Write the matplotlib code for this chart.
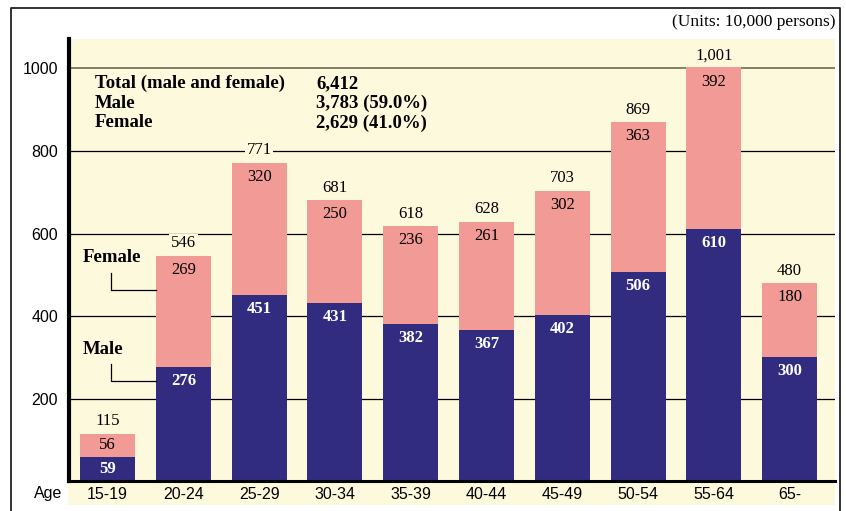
import numpy as np
import matplotlib.pyplot as plt
from matplotlib.patches import Rectangle
from matplotlib.lines import Line2D

# data (units: 10,000 persons)
ages = ["15-19", "20-24", "25-29", "30-34", "35-39", "40-44", "45-49", "50-54", "55-64", "65-"]
male = [59, 276, 451, 431, 382, 367, 402, 506, 610, 300]
female = [56, 269, 320, 250, 236, 261, 302, 363, 392, 180]
totals = [115, 546, 771, 681, 618, 628, 703, 869, 1001, 480]
summary_labels = ["Total (male and female)", "Male", "Female"]
summary_values = ["6,412", "3,783 (59.0%)", "2,629 (41.0%)"]

MALE_C = "#322c80"
FEMALE_C = "#f29a96"
BG = "#fdf9dc"
SERIF = "Liberation Serif"
SANS = "Liberation Sans"

fig = plt.figure(figsize=(8.46, 5.11), dpi=100)
W, H = 846, 511


def fx(px):
    return px / W


def fy(py):
    return 1 - py / H


# outer frame
fig.add_artist(Line2D([fx(11), fx(11), fx(840), fx(840)], [0, fy(8), fy(8), 0],
                      transform=fig.transFigure, color="#222222", lw=1.3))
# yellow band under x labels
fig.add_artist(Rectangle((fx(68), fy(505)), fx(835) - fx(68), fy(482) - fy(505),
                         transform=fig.transFigure, facecolor=BG, edgecolor="none", zorder=0))

ax = fig.add_axes([fx(69), fy(481.3), fx(835) - fx(69), fy(39) - fy(481.3)])
ax.set_facecolor(BG)
x = np.arange(len(ages))
ymax = 1071
ax.set_xlim(-0.51, 9.6)
ax.set_ylim(0, ymax)

for v in [200, 400, 600, 800]:
    ax.axhline(v, color="black", lw=0.9, zorder=1)
ax.axhline(1000, color="#6e6a55", lw=1.2, zorder=1)

w = 0.726
ax.bar(x, male, width=w, color=MALE_C, zorder=2)
ax.bar(x, female, width=w, bottom=male, color=FEMALE_C, zorder=2)

px_per_unit = (481.3 - 39) / ymax
for i in range(len(ages)):
    # label sits ~14px below segment top, or mid-segment for short ones (in points)
    off_m = min(14, male[i] * px_per_unit / 2) * 0.72
    off_f = min(14, female[i] * px_per_unit / 2) * 0.72
    ax.annotate(str(male[i]), (x[i], male[i]), xytext=(0, -off_m), textcoords="offset points",
                ha="center", va="center", color="white", fontweight="bold",
                family=SERIF, fontsize=12, zorder=3)
    ax.annotate(str(female[i]), (x[i], totals[i]), xytext=(0, -off_f), textcoords="offset points",
                ha="center", va="center", color="black", family=SERIF, fontsize=12, zorder=3)
    ax.annotate(f"{totals[i]:,}", (x[i], totals[i]), xytext=(0, 9), textcoords="offset points",
                ha="center", va="center", color="black", family=SERIF, fontsize=12, zorder=3,
                bbox=dict(boxstyle="square,pad=0.1", facecolor=BG, edgecolor="none"))

for s in ["top", "right"]:
    ax.spines[s].set_visible(False)
ax.spines["left"].set_linewidth(3)
ax.spines["bottom"].set_linewidth(2.2)
ax.set_yticks([200, 400, 600, 800, 1000])
ax.set_yticklabels(["200", "400", "600", "800", "1000"], family=SANS, fontsize=11.5)
ax.set_xticks(x)
ax.set_xticklabels(ages, family=SANS, fontsize=11.5)
ax.tick_params(length=0, pad=4)
ax.tick_params(axis="y", pad=8)

fig.text(fx(62), fy(493), "Age", ha="right", va="center", family=SANS, fontsize=11.5)
fig.text(fx(835), fy(22), "(Units: 10,000 persons)", ha="right", va="center",
         family=SERIF, fontsize=12.5)

# summary block
for j, (lab, val) in enumerate(zip(summary_labels, summary_values)):
    ypos = fy(83.5 + 19.7 * j)
    fig.text(fx(95), ypos, lab, ha="left", va="center", family=SERIF,
             fontweight="bold", fontsize=13.5)
    fig.text(fx(316), ypos, val, ha="left", va="center", family=SERIF,
             fontweight="bold", fontsize=13.5)

# series callouts
fig.text(fx(83), fy(258), "Female", ha="left", va="center", family=SERIF,
         fontweight="bold", fontsize=13.5)
fig.text(fx(83), fy(349), "Male", ha="left", va="center", family=SERIF,
         fontweight="bold", fontsize=13.5)
for y0, y1 in [(273, 290), (364, 381)]:
    fig.add_artist(Line2D([fx(111), fx(111), fx(156)], [fy(y0), fy(y1), fy(y1)],
                          transform=fig.transFigure, color="black", lw=0.9))

fig.savefig("out.png", dpi=100)
